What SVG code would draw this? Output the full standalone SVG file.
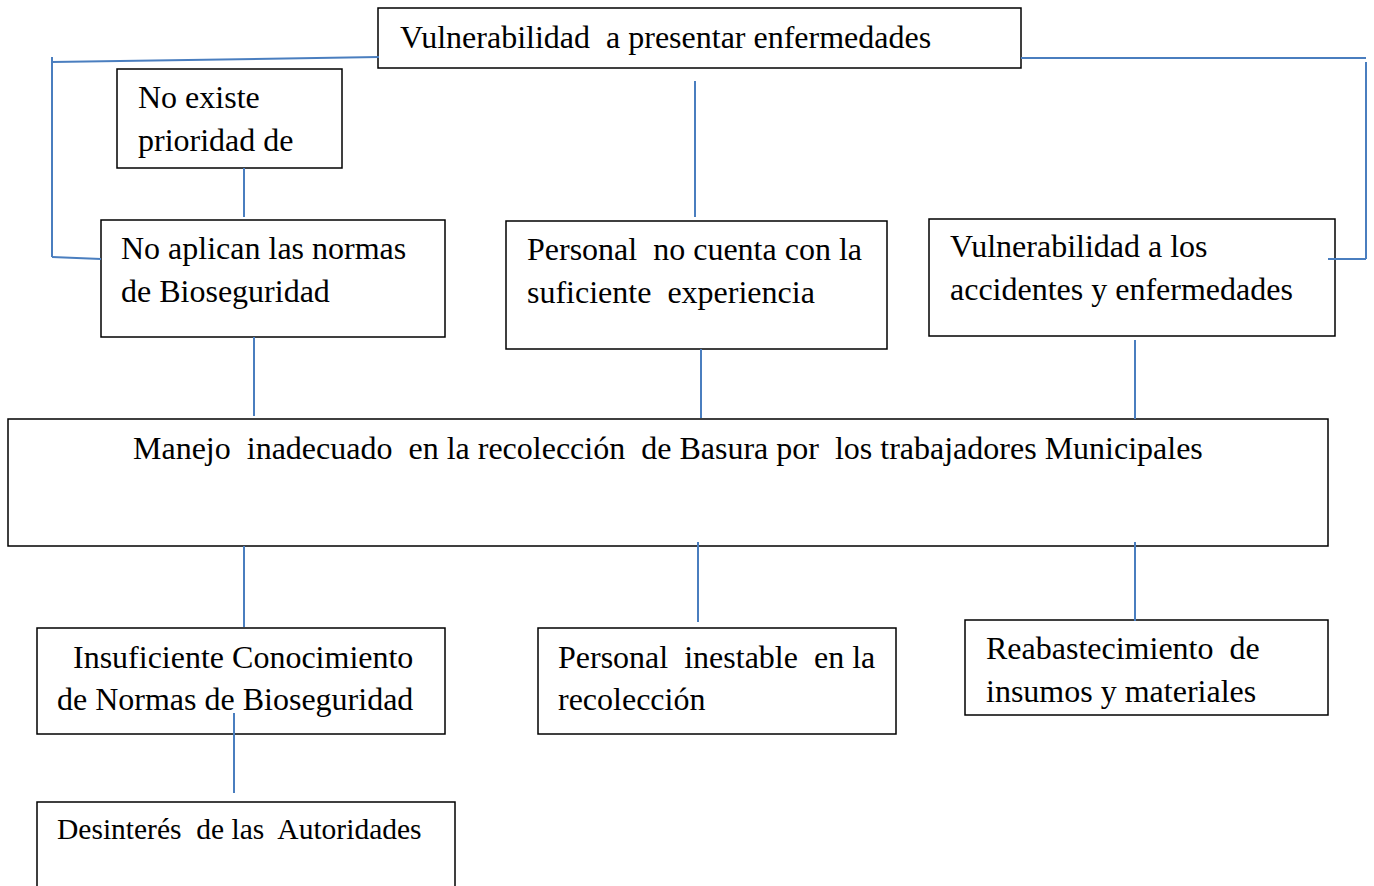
<svg xmlns="http://www.w3.org/2000/svg" width="1374" height="886" viewBox="0 0 1374 886">
<style>
.box{fill:#fff;stroke:#000;stroke-width:1.5}
.t{font-family:"Liberation Serif","Times New Roman",serif;font-size:32px;fill:#000;white-space:pre}
.s{font-size:29.5px}
.c line{stroke:#4A7EBF;stroke-width:2}
</style>
<rect width="1374" height="886" fill="#fff"/>
<g id="n-top">
<rect class="box" x="378" y="8" width="643" height="60"/>
<text class="t" x="400" y="48">Vulnerabilidad  a presentar enfermedades</text>
</g>
<g id="n-noexiste">
<rect class="box" x="117" y="69" width="225" height="99"/>
<text class="t" x="138" y="108">No existe</text>
<text class="t" x="138" y="151">prioridad de</text>
</g>
<g id="n-noaplican">
<rect class="box" x="101" y="220" width="344" height="117"/>
<text class="t" x="121" y="259">No aplican las normas</text>
<text class="t" x="121" y="302">de Bioseguridad</text>
</g>
<g id="n-personal">
<rect class="box" x="506" y="221" width="381" height="128"/>
<text class="t" x="527" y="260">Personal  no cuenta con la</text>
<text class="t" x="527" y="303">suficiente  experiencia</text>
</g>
<g id="n-vulaccidentes">
<rect class="box" x="929" y="219" width="406" height="117"/>
<text class="t" x="950" y="257">Vulnerabilidad a los</text>
<text class="t" x="950" y="300">accidentes y enfermedades</text>
</g>
<g id="n-manejo">
<rect class="box" x="8" y="419" width="1320" height="127"/>
<text class="t" x="133" y="459">Manejo  inadecuado  en la recolección  de Basura por  los trabajadores Municipales</text>
</g>
<g id="n-insuficiente">
<rect class="box" x="37" y="628" width="408" height="106"/>
<text class="t" x="73" y="668">Insuficiente Conocimiento</text>
<text class="t" x="57" y="710">de Normas de Bioseguridad</text>
</g>
<g id="n-inestable">
<rect class="box" x="538" y="628" width="358" height="106"/>
<text class="t" x="558" y="668">Personal  inestable  en la</text>
<text class="t" x="558" y="710">recolección</text>
</g>
<g id="n-reabastecimiento">
<rect class="box" x="965" y="620" width="363" height="95"/>
<text class="t" x="986" y="659">Reabastecimiento  de</text>
<text class="t" x="986" y="702">insumos y materiales</text>
</g>
<g id="n-desinteres">
<rect class="box" x="37" y="802" width="418" height="100"/>
<text class="t s" x="57" y="839">Desinterés  de las  Autoridades</text>
</g>
<g class="c" id="connectors">
<line x1="52" y1="62" x2="379" y2="57"/>
<line x1="52" y1="57" x2="52" y2="257"/>
<line x1="52" y1="257" x2="101" y2="259"/>
<line x1="244" y1="168" x2="244" y2="217"/>
<line x1="254" y1="337" x2="254" y2="416"/>
<line x1="695" y1="81" x2="695" y2="217"/>
<line x1="701" y1="349" x2="701" y2="418"/>
<line x1="1021" y1="58" x2="1366" y2="58"/>
<line x1="1366" y1="62" x2="1366" y2="259"/>
<line x1="1328" y1="259" x2="1366" y2="259"/>
<line x1="1135" y1="340" x2="1135" y2="419"/>
<line x1="244" y1="546" x2="244" y2="627"/>
<line x1="698" y1="542" x2="698" y2="622"/>
<line x1="1135" y1="542" x2="1135" y2="621"/>
<line x1="234" y1="713" x2="234" y2="793"/>
</g>
</svg>
